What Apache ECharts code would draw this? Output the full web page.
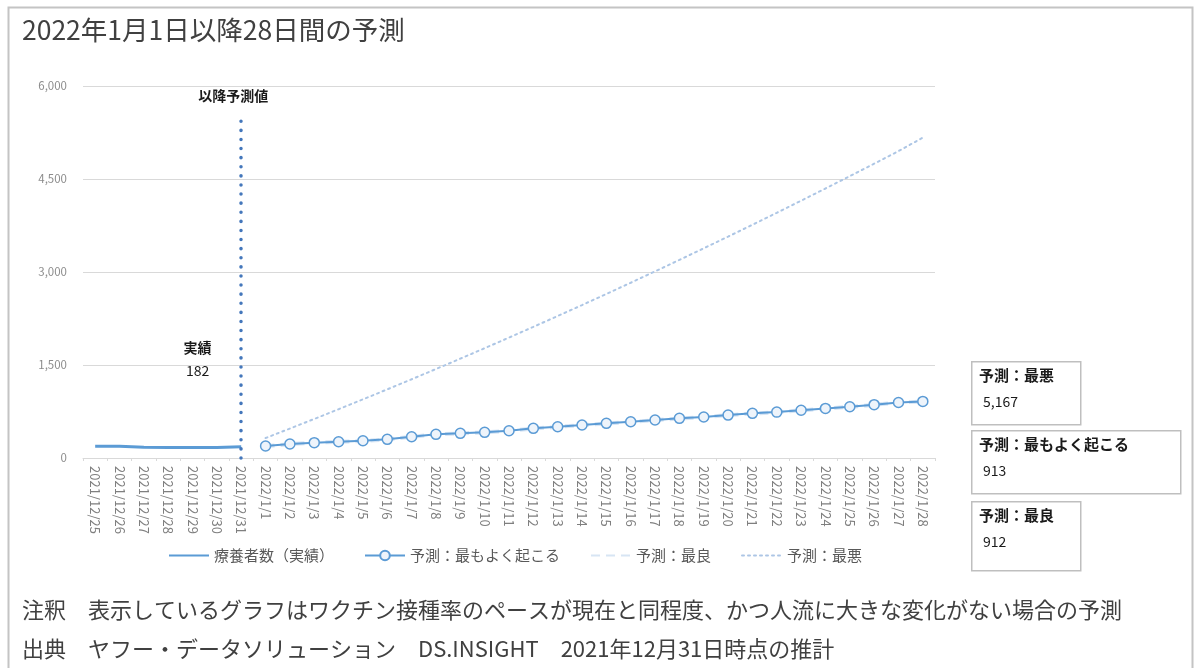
<!DOCTYPE html>
<html>
<head>
<meta charset="utf-8">
<script src="https://cdn.jsdelivr.net/npm/echarts@6/dist/echarts.min.js"></script>
<style>
  html, body { margin: 0; padding: 0; background: #fff; }
  #chart { width: 1196px; height: 668px; }
</style>
</head>
<body>
<div id="chart"></div>
<script>
// Dates: 7 days of actual counts followed by 28 forecast days
const actualDates = ['2021/12/25','2021/12/26','2021/12/27','2021/12/28','2021/12/29','2021/12/30','2021/12/31'];
const forecastDates = ['2022/1/1','2022/1/2','2022/1/3','2022/1/4','2022/1/5','2022/1/6','2022/1/7','2022/1/8','2022/1/9','2022/1/10',
  '2022/1/11','2022/1/12','2022/1/13','2022/1/14','2022/1/15','2022/1/16','2022/1/17','2022/1/18','2022/1/19','2022/1/20',
  '2022/1/21','2022/1/22','2022/1/23','2022/1/24','2022/1/25','2022/1/26','2022/1/27','2022/1/28'];

// 療養者数（実績）
const actualValues = [190, 190, 172, 168, 168, 170, 182];
// 予測：最もよく起こる
const likelyValues = [193, 225, 247, 263, 279, 301, 343, 382, 398, 414, 440, 478, 504, 532, 559, 585, 612, 640, 662, 692,
  720, 740, 770, 800, 826, 860, 895, 913];
// 予測：最良
const bestValues = [192, 223, 245, 261, 277, 299, 341, 380, 396, 412, 438, 476, 502, 530, 557, 583, 610, 638, 660, 690,
  718, 738, 768, 798, 824, 858, 893, 912];
// 予測：最悪
const worstValues = [322, 475, 630, 787, 946, 1107, 1270, 1435, 1602, 1771, 1942, 2115, 2290, 2467, 2646, 2827, 3010, 3195,
  3382, 3571, 3762, 3955, 4150, 4347, 4546, 4747, 4950, 5167];

const yTicks = { min: 0, max: 6000, interval: 1500 };
const dividerTop = 5450;   // height of the "以降予測値" divider

const seriesNames = ['療養者数（実績）', '予測：最もよく起こる', '予測：最良', '予測：最悪'];

const categories = actualDates.concat(forecastDates);
const pad = (arr, before, after) => Array(before).fill(null).concat(arr, Array(after).fill(null));
const actualSeries = pad(actualValues, 0, forecastDates.length);
const likelySeries = pad(likelyValues, actualDates.length, 0);
const bestSeries = pad(bestValues, actualDates.length, 0);
const worstSeries = pad(worstValues, actualDates.length, 0);

const fmt = v => v.toLocaleString('en-US');
const lastActual = actualValues[actualValues.length - 1];
const lastDate = actualDates[actualDates.length - 1];

const FONT = '"Noto Sans CJK JP", "Noto Sans", sans-serif';
const BLUE = '#5b9bd5';

const chart = echarts.init(document.getElementById('chart'), null, { renderer: 'canvas' });

// summary boxes at the right edge
const boxes = [
  { name: seriesNames[3], value: worstValues[worstValues.length - 1], y: 361, w: 109, h: 63 },
  { name: seriesNames[1], value: likelyValues[likelyValues.length - 1], y: 430, w: 209, h: 63 },
  { name: seriesNames[2], value: bestValues[bestValues.length - 1], y: 501, w: 109, h: 69 }
];
const boxGraphics = [];
boxes.forEach(b => {
  boxGraphics.push({
    type: 'rect', left: 971, top: b.y,
    shape: { width: b.w, height: b.h },
    style: { fill: '#fff', stroke: '#bfbfbf', lineWidth: 1.5 }
  });
  boxGraphics.push({
    type: 'text', left: 979, top: b.y + 7,
    style: { text: b.name, font: 'bold 15px ' + FONT, fill: '#1a1a1a' }
  });
  boxGraphics.push({
    type: 'text', left: 983, top: b.y + 34,
    style: { text: fmt(b.value), font: '14px ' + FONT, fill: '#1a1a1a' }
  });
});

const option = {
  animation: false,
  backgroundColor: '#fff',
  title: {
    text: '2022年1月1日以降28日間の予測',
    left: 17, top: 12,
    textStyle: { fontFamily: FONT, fontSize: 26.5, fontWeight: 'normal', color: '#404040' }
  },
  grid: { left: 83, right: 261, top: 86, bottom: 210 },
  legend: {
    data: seriesNames.map((n, i) => i === 1 ? { name: n } : { name: n, itemStyle: { opacity: 0 } }),
    left: 163, top: 543,
    itemGap: 30, itemWidth: 40, itemHeight: 12,
    textStyle: { fontFamily: FONT, fontSize: 15, color: '#595959' }
  },
  xAxis: {
    type: 'category',
    data: categories,
    boundaryGap: true,
    axisLine: { lineStyle: { color: '#d9d9d9', width: 1 } },
    axisTick: { show: true, length: 3, lineStyle: { color: '#d9d9d9' } },
    axisLabel: { rotate: -90, interval: 0, fontFamily: FONT, fontSize: 13, color: '#7f7f7f', margin: 8 }
  },
  yAxis: {
    type: 'value',
    min: yTicks.min, max: yTicks.max, interval: yTicks.interval,
    axisLine: { show: false },
    axisTick: { show: false },
    splitLine: { lineStyle: { color: '#d9d9d9', width: 1 } },
    axisLabel: { fontFamily: FONT, fontSize: 11.5, color: '#8c8c8c', margin: 16, formatter: v => fmt(v) }
  },
  series: [
    {
      name: seriesNames[0], type: 'line', data: actualSeries,
      symbol: 'none', smooth: false,
      lineStyle: { color: BLUE, width: 3 },
      itemStyle: { color: BLUE },
      z: 4,
      markLine: {
        silent: true, symbol: 'none',
        label: { show: false },
        lineStyle: { color: '#4477bb', width: 3.5, type: [0.1, 9], cap: 'round' },
        data: [[{ coord: [lastDate, 0] }, { coord: [lastDate, dividerTop] }]]
      },
      markPoint: {
        silent: true, symbol: 'rect', symbolSize: 1,
        itemStyle: { color: 'rgba(0,0,0,0)' },
        data: [
          { coord: [actualDates[4], 0], label: { show: true, formatter: '{b|実績}\n{v|' + lastActual + '}', offset: [5, -99],
            rich: { b: { fontFamily: FONT, fontSize: 14, fontWeight: 'bold', color: '#1a1a1a', lineHeight: 23 },
                    v: { fontFamily: FONT, fontSize: 14, color: '#1a1a1a', lineHeight: 23 } } } },
          { coord: [actualDates[6], 0], label: { show: true, formatter: '以降予測値', offset: [-8, -362],
            fontFamily: FONT, fontSize: 14, fontWeight: 'bold', color: '#1a1a1a' } }
        ]
      }
    },
    {
      name: seriesNames[2], type: 'line', data: bestSeries,
      symbol: 'none',
      lineStyle: { color: '#d7e5f4', width: 4, type: [9, 6] },
      itemStyle: { color: '#d7e5f4' },
      z: 2
    },
    {
      name: seriesNames[3], type: 'line', data: worstSeries,
      symbol: 'none',
      lineStyle: { color: '#adc6e5', width: 2, type: [2, 4], cap: 'round' },
      itemStyle: { color: '#adc6e5' },
      z: 2
    },
    {
      name: seriesNames[1], type: 'line', data: likelySeries,
      symbol: 'circle', symbolSize: 10,
      lineStyle: { color: BLUE, width: 2 },
      itemStyle: { color: '#eef4fb', borderColor: BLUE, borderWidth: 1.5 },
      z: 5
    }
  ],
  graphic: [
    {
      type: 'rect', left: 6, top: 5, silent: true,
      shape: { width: 1184, height: 700 },
      style: { fill: 'none', stroke: '#c4c4c4', lineWidth: 2 }
    },
    {
      type: 'text', left: 22, top: 599,
      style: { text: '注釈　表示しているグラフはワクチン接種率のペースが現在と同程度、かつ人流に大きな変化がない場合の予測',
               font: '22px ' + FONT, fill: '#404040' }
    },
    {
      type: 'text', left: 22, top: 638,
      style: { text: '出典　ヤフー・データソリューション　DS.INSIGHT　2021年12月31日時点の推計',
               font: '22px ' + FONT, fill: '#404040' }
    }
  ].concat(boxGraphics)
};

chart.setOption(option);
</script>
</body>
</html>
